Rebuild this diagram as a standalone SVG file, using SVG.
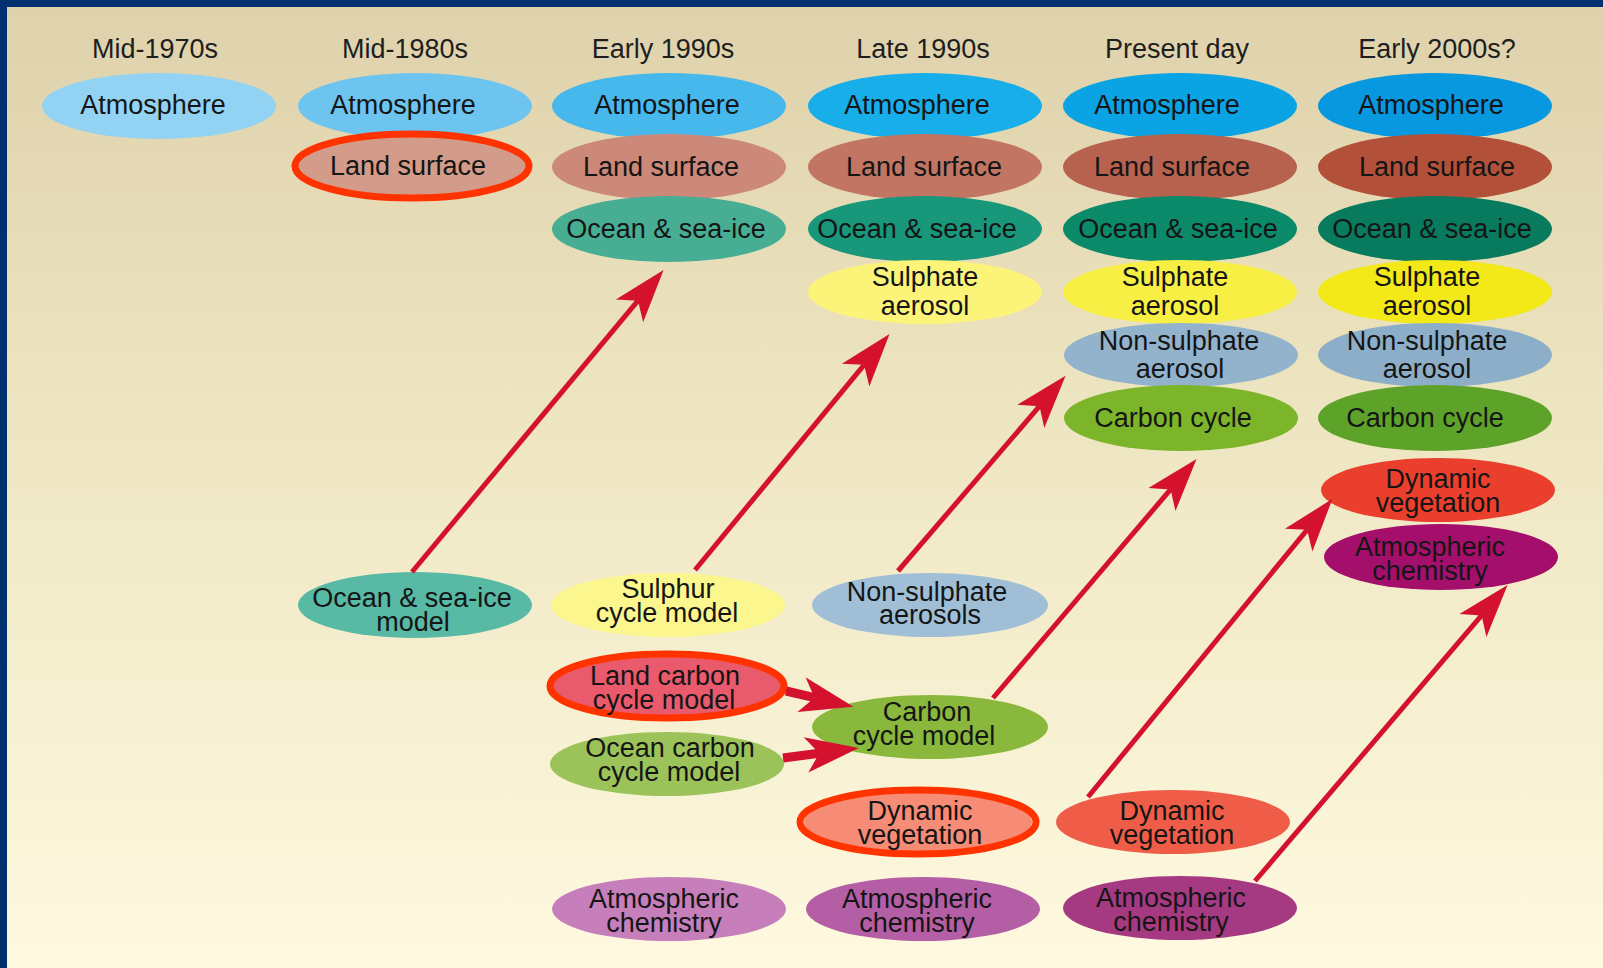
<svg xmlns="http://www.w3.org/2000/svg" width="1603" height="968" viewBox="0 0 1603 968">
<defs>
<linearGradient id="bg" x1="0" y1="0" x2="0" y2="1">
<stop offset="0" stop-color="#ded1ab"/>
<stop offset="0.5" stop-color="#f0e8c5"/>
<stop offset="1" stop-color="#fef9e0"/>
</linearGradient>
<marker id="head" markerUnits="userSpaceOnUse" markerWidth="60" markerHeight="40" viewBox="-14 -18 52 36" refX="0" refY="0" orient="auto">
<path d="M36,0 L-12,-16 L0,0 L-12,16 Z" fill="#d4122e"/>
</marker>
</defs>
<style>
.t{font-family:"Liberation Sans",Arial,sans-serif;font-size:27px;fill:#151515;text-anchor:middle}
.h{font-family:"Liberation Sans",Arial,sans-serif;font-size:27px;fill:#1e1e1e;text-anchor:middle}
.ring{fill:none;stroke:#ff3300;stroke-width:7}
.arr{fill:none;stroke:#d4122e;stroke-width:5;marker-end:url(#head)}
.arrT{fill:none;stroke:#d4122e;stroke-width:9;marker-end:url(#head)}
</style>
<rect x="0" y="0" width="1603" height="968" fill="url(#bg)"/>
<rect x="0" y="0" width="1603" height="7" fill="#00306e"/>
<rect x="0" y="0" width="7" height="968" fill="#00306e"/>

<g id="titles">
<text class="h" x="155" y="58">Mid-1970s</text>
<text class="h" x="405" y="58">Mid-1980s</text>
<text class="h" x="663" y="58">Early 1990s</text>
<text class="h" x="923" y="58">Late 1990s</text>
<text class="h" x="1177" y="58">Present day</text>
<text class="h" x="1437" y="58">Early 2000s?</text>
</g>

<g id="atm-1970"><ellipse cx="159" cy="106" rx="117" ry="33" fill="#92d3f3"/><text class="t" x="153" y="114">Atmosphere</text></g>

<g id="atm-1980"><ellipse cx="415" cy="106" rx="117" ry="33" fill="#6cc4ef"/><text class="t" x="403" y="114">Atmosphere</text></g>
<g id="land-1980"><ellipse cx="411" cy="166" rx="115" ry="31" fill="#d39c8a"/><ellipse class="ring" cx="412" cy="166" rx="117" ry="32"/><text class="t" x="408" y="175">Land surface</text></g>
<g id="ocean-model-1980"><ellipse cx="415" cy="605" rx="117" ry="33" fill="#58b9a5"/><text class="t" x="412" y="607">Ocean &amp; sea-ice</text><text class="t" x="413" y="631">model</text></g>

<g id="atm-1990e"><ellipse cx="669" cy="106" rx="117" ry="33" fill="#46b8ec"/><text class="t" x="667" y="114">Atmosphere</text></g>
<g id="land-1990e"><ellipse cx="669" cy="167" rx="117" ry="33" fill="#cc8878"/><text class="t" x="661" y="176">Land surface</text></g>
<g id="ocean-1990e"><ellipse cx="669" cy="229" rx="117" ry="33" fill="#48ae93"/><text class="t" x="666" y="238">Ocean &amp; sea-ice</text></g>
<g id="sulphur-model"><ellipse cx="668" cy="605" rx="117" ry="32" fill="#fbf68e"/><text class="t" x="668" y="598">Sulphur</text><text class="t" x="667" y="622">cycle model</text></g>
<g id="landcarbon-model"><ellipse cx="667" cy="687" rx="115" ry="30" fill="#e95a6c"/><ellipse class="ring" cx="667" cy="686" rx="117" ry="32"/><text class="t" x="665" y="685">Land carbon</text><text class="t" x="664" y="709">cycle model</text></g>
<g id="oceancarbon-model"><ellipse cx="667" cy="764" rx="117" ry="32" fill="#9cc35a"/><text class="t" x="670" y="757">Ocean carbon</text><text class="t" x="669" y="781">cycle model</text></g>
<g id="chem-1990e"><ellipse cx="669" cy="909" rx="117" ry="32" fill="#c67fbb"/><text class="t" x="664" y="908">Atmospheric</text><text class="t" x="664" y="932">chemistry</text></g>

<g id="atm-1990l"><ellipse cx="925" cy="106" rx="117" ry="33" fill="#17aee9"/><text class="t" x="917" y="114">Atmosphere</text></g>
<g id="land-1990l"><ellipse cx="925" cy="167" rx="117" ry="33" fill="#c27563"/><text class="t" x="924" y="176">Land surface</text></g>
<g id="ocean-1990l"><ellipse cx="925" cy="229" rx="117" ry="33" fill="#18977a"/><text class="t" x="917" y="238">Ocean &amp; sea-ice</text></g>
<g id="sulphate-1990l"><ellipse cx="925" cy="292" rx="117" ry="32" fill="#fbf479"/><text class="t" x="925" y="286">Sulphate</text><text class="t" x="925" y="315">aerosol</text></g>
<g id="nonsulph-aerosols"><ellipse cx="930" cy="605" rx="118" ry="32" fill="#a0bfd7"/><text class="t" x="927" y="601">Non-sulphate</text><text class="t" x="930" y="624">aerosols</text></g>
<g id="carbon-model"><ellipse cx="930" cy="727" rx="118" ry="32" fill="#8ab83c"/><text class="t" x="927" y="721">Carbon</text><text class="t" x="924" y="745">cycle model</text></g>
<g id="dynveg-1990l"><ellipse cx="918" cy="822" rx="114" ry="29" fill="#f68b76"/><ellipse class="ring" cx="918" cy="822" rx="118" ry="32"/><text class="t" x="920" y="820">Dynamic</text><text class="t" x="920" y="844">vegetation</text></g>
<g id="chem-1990l"><ellipse cx="923" cy="909" rx="117" ry="32" fill="#b45ea6"/><text class="t" x="917" y="908">Atmospheric</text><text class="t" x="917" y="932">chemistry</text></g>

<g id="atm-present"><ellipse cx="1180" cy="106" rx="117" ry="33" fill="#0aa3e4"/><text class="t" x="1167" y="114">Atmosphere</text></g>
<g id="land-present"><ellipse cx="1180" cy="167" rx="117" ry="33" fill="#b7614f"/><text class="t" x="1172" y="176">Land surface</text></g>
<g id="ocean-present"><ellipse cx="1180" cy="229" rx="117" ry="33" fill="#0b8a6a"/><text class="t" x="1178" y="238">Ocean &amp; sea-ice</text></g>
<g id="sulphate-present"><ellipse cx="1180" cy="292" rx="117" ry="32" fill="#f8ef45"/><text class="t" x="1175" y="286">Sulphate</text><text class="t" x="1175" y="315">aerosol</text></g>
<g id="nonsulph-present"><ellipse cx="1181" cy="355" rx="117" ry="32" fill="#93b2cc"/><text class="t" x="1179" y="350">Non-sulphate</text><text class="t" x="1180" y="378">aerosol</text></g>
<g id="carbon-present"><ellipse cx="1181" cy="418" rx="117" ry="33" fill="#7cb529"/><text class="t" x="1173" y="427">Carbon cycle</text></g>
<g id="dynveg-present"><ellipse cx="1173" cy="822" rx="117" ry="32" fill="#ef5d48"/><text class="t" x="1172" y="820">Dynamic</text><text class="t" x="1172" y="844">vegetation</text></g>
<g id="chem-present"><ellipse cx="1180" cy="908" rx="117" ry="32" fill="#a63a82"/><text class="t" x="1171" y="907">Atmospheric</text><text class="t" x="1171" y="931">chemistry</text></g>

<g id="atm-2000"><ellipse cx="1435" cy="106" rx="117" ry="33" fill="#0898df"/><text class="t" x="1431" y="114">Atmosphere</text></g>
<g id="land-2000"><ellipse cx="1435" cy="167" rx="117" ry="33" fill="#b3503a"/><text class="t" x="1437" y="176">Land surface</text></g>
<g id="ocean-2000"><ellipse cx="1435" cy="229" rx="117" ry="33" fill="#087a5d"/><text class="t" x="1432" y="238">Ocean &amp; sea-ice</text></g>
<g id="sulphate-2000"><ellipse cx="1435" cy="292" rx="117" ry="32" fill="#f3e818"/><text class="t" x="1427" y="286">Sulphate</text><text class="t" x="1427" y="315">aerosol</text></g>
<g id="nonsulph-2000"><ellipse cx="1435" cy="355" rx="117" ry="32" fill="#8caec8"/><text class="t" x="1427" y="350">Non-sulphate</text><text class="t" x="1427" y="378">aerosol</text></g>
<g id="carbon-2000"><ellipse cx="1435" cy="418" rx="117" ry="33" fill="#5ea329"/><text class="t" x="1425" y="427">Carbon cycle</text></g>
<g id="dynveg-2000"><ellipse cx="1438" cy="490" rx="117" ry="32" fill="#ea3f2c"/><text class="t" x="1438" y="488">Dynamic</text><text class="t" x="1438" y="512">vegetation</text></g>
<g id="chem-2000"><ellipse cx="1441" cy="557" rx="117" ry="33" fill="#a30f6b"/><text class="t" x="1430" y="556">Atmospheric</text><text class="t" x="1430" y="580">chemistry</text></g>

<g id="connectors">
<line class="arr" x1="412" y1="572" x2="638" y2="300.7"/>
<line class="arr" x1="695" y1="570" x2="864.1" y2="364.8"/>
<line class="arr" x1="898" y1="571" x2="1039.5" y2="406.2"/>
<line class="arr" x1="993" y1="698" x2="1170.6" y2="489.4"/>
<line class="arr" x1="1088" y1="797" x2="1307.1" y2="529.8"/>
<line class="arr" x1="1255" y1="881" x2="1481.6" y2="615.4"/>
<line class="arrT" x1="786" y1="691" x2="814.5" y2="697.7"/>
<line class="arrT" x1="783" y1="758" x2="819.2" y2="753.2"/>
</g>
</svg>
